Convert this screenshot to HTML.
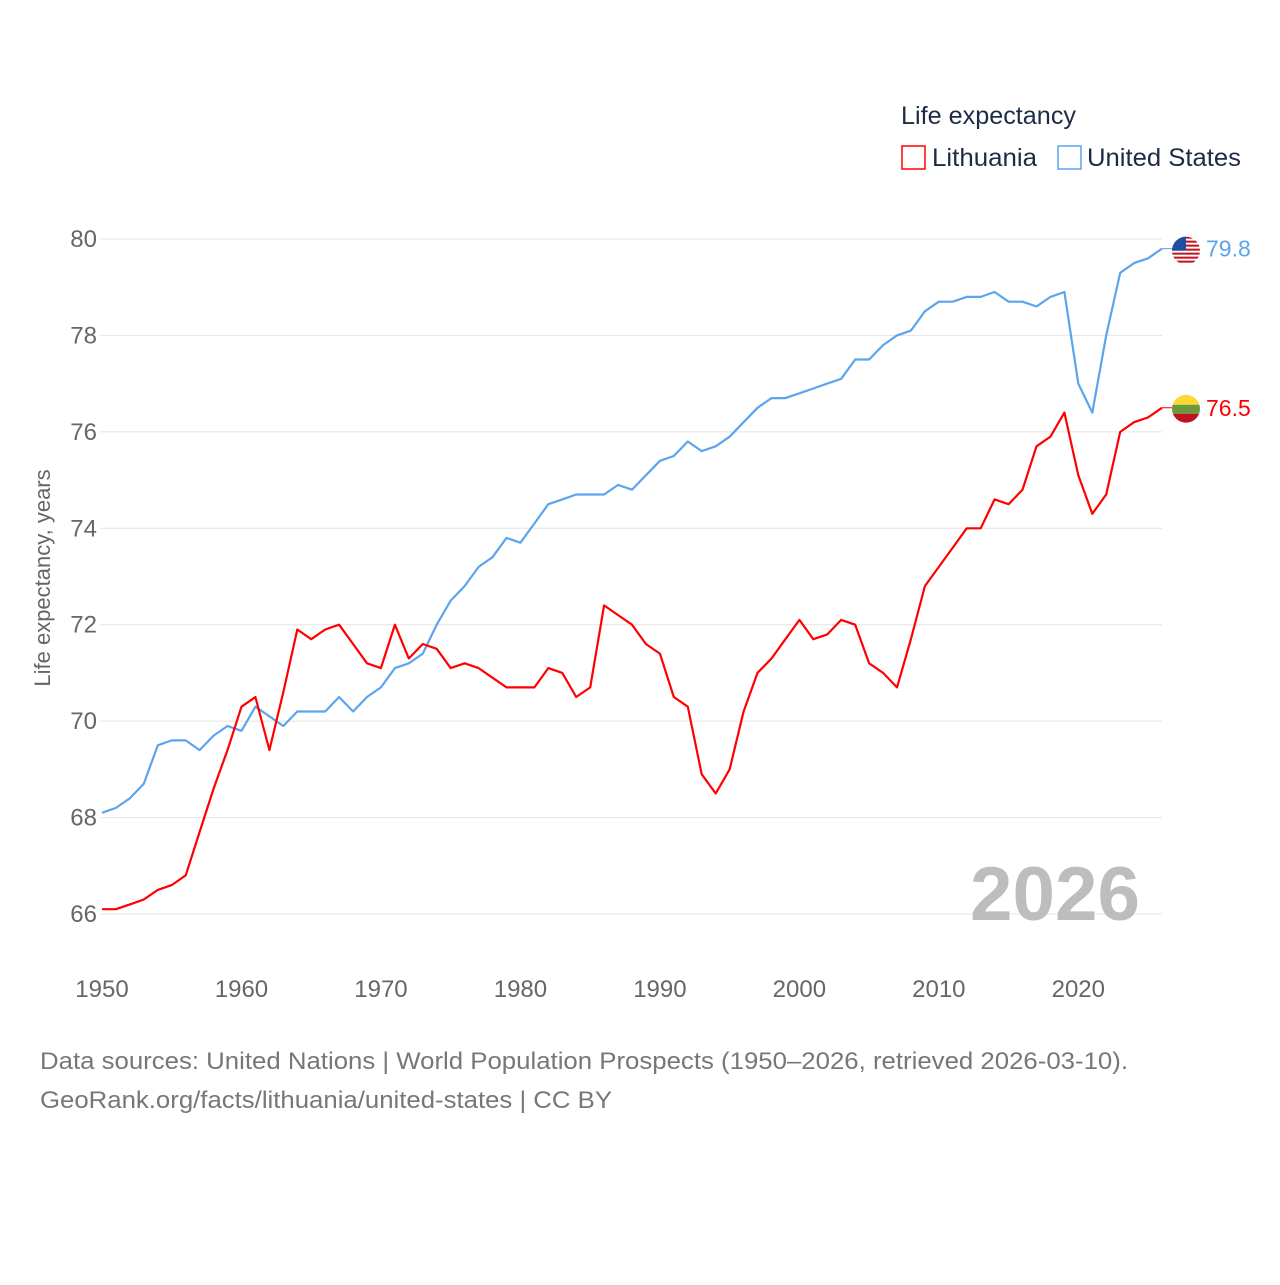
<!DOCTYPE html>
<html><head><meta charset="utf-8">
<style>
html,body{margin:0;padding:0;background:#fff;}
body{width:1280px;height:1280px;overflow:hidden;font-family:"Liberation Sans",sans-serif;}
</style></head>
<body>
<svg id="chart" width="1280" height="1280" xmlns="http://www.w3.org/2000/svg" font-family="Liberation Sans, sans-serif">
<g id="grid"></g>
<g id="xaxis"></g>
<g id="yaxis"></g>
<text x="970" y="920" textLength="170" lengthAdjust="spacingAndGlyphs" font-size="76" font-weight="bold" fill="#bdbdbd">2026</text>
<text transform="translate(50,578) rotate(-90)" text-anchor="middle" font-size="22" fill="#666">Life expectancy, years</text>
<g id="series"></g>
<g>
<text x="901" y="124" font-size="25" textLength="175" lengthAdjust="spacingAndGlyphs" fill="#1d2b45">Life expectancy</text>
<g><rect x="902" y="146" width="23" height="23" fill="none" stroke="#f00" stroke-width="1.5"/><text x="932" y="166" font-size="25" textLength="105" lengthAdjust="spacingAndGlyphs" fill="#1d2b45">Lithuania</text></g>
<g><rect x="1058" y="146" width="23" height="23" fill="none" stroke="#5ba4ee" stroke-width="1.5"/><text x="1087" y="166" font-size="25" textLength="154" lengthAdjust="spacingAndGlyphs" fill="#1d2b45">United States</text></g>
</g>
<g>
<text x="40" y="1069" font-size="24" textLength="1088" lengthAdjust="spacingAndGlyphs" fill="#777">Data sources: United Nations | World Population Prospects (1950–2026, retrieved 2026-03-10).</text>
<text x="40" y="1108" font-size="24" textLength="572" lengthAdjust="spacingAndGlyphs" fill="#777">GeoRank.org/facts/lithuania/united-states | CC BY</text>
</g>
</svg>
<script>
const years = [];
for (let y = 1950; y <= 2026; y++) years.push(y);
const usValues = [68.1,68.2,68.4,68.7,69.5,69.6,69.6,69.4,69.7,69.9,69.8,70.3,70.1,69.9,70.2,70.2,70.2,70.5,70.2,70.5,70.7,71.1,71.2,71.4,72.0,72.5,72.8,73.2,73.4,73.8,73.7,74.1,74.5,74.6,74.7,74.7,74.7,74.9,74.8,75.1,75.4,75.5,75.8,75.6,75.7,75.9,76.2,76.5,76.7,76.7,76.8,76.9,77.0,77.1,77.5,77.5,77.8,78.0,78.1,78.5,78.7,78.7,78.8,78.8,78.9,78.7,78.7,78.6,78.8,78.9,77.0,76.4,78.0,79.3,79.5,79.6,79.8];
const ltValues = [66.1,66.1,66.2,66.3,66.5,66.6,66.8,67.7,68.6,69.4,70.3,70.5,69.4,70.6,71.9,71.7,71.9,72.0,71.6,71.2,71.1,72.0,71.3,71.6,71.5,71.1,71.2,71.1,70.9,70.7,70.7,70.7,71.1,71.0,70.5,70.7,72.4,72.2,72.0,71.6,71.4,70.5,70.3,68.9,68.5,69.0,70.2,71.0,71.3,71.7,72.1,71.7,71.8,72.1,72.0,71.2,71.0,70.7,71.7,72.8,73.2,73.6,74.0,74.0,74.6,74.5,74.8,75.7,75.9,76.4,75.1,74.3,74.7,76.0,76.2,76.3,76.5];
const yTicks = [66,68,70,72,74,76,78,80];
const xTicks = [1950,1960,1970,1980,1990,2000,2010,2020];

const NS = "http://www.w3.org/2000/svg";
function xs(yr){ return 102 + (yr - 1950) * (1162 - 102) / 76; }
function ys(v){ return 914 - (v - 66) * (914 - 239) / 14; }
function mk(tag, attrs, parent){ const e = document.createElementNS(NS, tag); for (const k in attrs) e.setAttribute(k, attrs[k]); parent.appendChild(e); return e; }

const grid = document.getElementById('grid'), yax = document.getElementById('yaxis'), xax = document.getElementById('xaxis');
yTicks.forEach(t => {
  const l = mk('line', {x1:100, x2:1162, y1:ys(t), y2:ys(t), stroke:'#e4e4e4', 'stroke-width':1}, grid);
  
  
  const tx = mk('text', {x:97, y:ys(t)+8, 'text-anchor':'end', 'font-size':24, fill:'#666'}, yax);
  tx.textContent = t;
  
  
});
xTicks.forEach(t => {
  const tx = mk('text', {x:xs(t), y:997, 'text-anchor':'middle', 'font-size':24, fill:'#666'}, xax);
  tx.textContent = t;
  
  
});

const series = document.getElementById('series');
function drawLine(vals, color, name){
  const d = vals.map((v,i) => (i ? 'L' : 'M') + xs(years[i]).toFixed(1) + ',' + ys(v).toFixed(1)).join(' ');
  const p = mk('path', {d:d, fill:'none', stroke:color, 'stroke-width':2.2, 'stroke-linejoin':'round'}, series);
  
  
  const last = vals[vals.length-1], lx = xs(years[years.length-1]), ly = ys(last);
  const g = mk('g', {}, series);
  
  
  const cx = lx + 24;
  if (name === 'lithuania') {
    mk('clipPath', {id:'clipLt'}, g);
    const cp = g.lastChild; mk('circle', {cx:cx, cy:ly+1, r:14}, cp);
    const f = mk('g', {'clip-path':'url(#clipLt)'}, g);
    mk('rect', {x:cx-14, y:ly-13, width:28, height:10, fill:'#fdd835'}, f);
    mk('rect', {x:cx-14, y:ly-3, width:28, height:9, fill:'#6a9a3a'}, f);
    mk('rect', {x:cx-14, y:ly+6, width:28, height:10, fill:'#c1121f'}, f);
  } else {
    mk('clipPath', {id:'clipUs'}, g);
    const cp = g.lastChild; mk('circle', {cx:cx, cy:ly+2, r:14}, cp);
    const f = mk('g', {'clip-path':'url(#clipUs)'}, g);
    mk('rect', {x:cx-14, y:ly-12, width:28, height:28, fill:'#fff'}, f);
    for (let i = 0; i < 7; i++) mk('rect', {x:cx-14, y:ly-12+i*4, width:28, height:2, fill:'#c1121f'}, f);
    mk('rect', {x:cx-14, y:ly-12, width:14, height:14, fill:'#1f4fa0'}, f);
  }
  mk('line', {x1:lx, x2:cx-14, y1:ly, y2:ly, stroke:color, 'stroke-width':1}, g);
  const t = mk('text', {x:cx+20, y:ly+8, 'font-size':23, fill:color}, series);
  t.textContent = last.toFixed(1);
  
  
}
drawLine(usValues, '#5ba4ee', 'united-states');
drawLine(ltValues, '#ff0000', 'lithuania');
</script>
</body></html>
